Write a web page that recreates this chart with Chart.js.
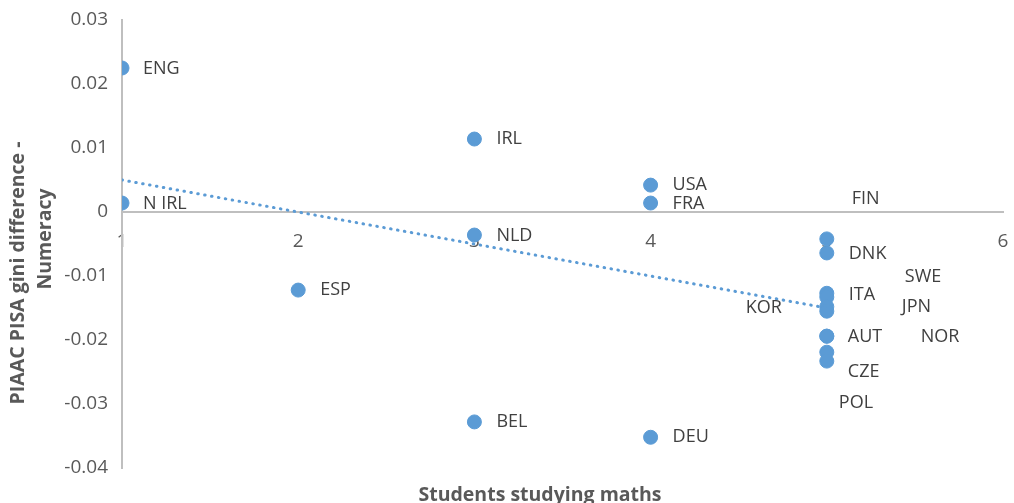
<!DOCTYPE html>
<html>
<head>
<meta charset="utf-8">
<script src="https://cdn.jsdelivr.net/npm/chart.js@4/dist/chart.umd.min.js"></script>
<style>
  body { margin: 0; background: #fff; }
  #wrap { width: 1014px; height: 503px; }
</style>
</head>
<body>
<div id="wrap"><canvas id="giniChart" width="1014" height="503"></canvas></div>
<script>
// countries and their values
var countries = ["ENG", "N IRL", "ESP", "IRL", "NLD", "BEL", "USA", "FRA", "DEU",
                 "FIN", "DNK", "SWE", "ITA", "KOR", "JPN", "AUT", "NOR", "CZE", "POL"];
var mathsStudy = [1, 1, 2, 3, 3, 3, 4, 4, 4,
                  5, 5, 5, 5, 5, 5, 5, 5, 5, 5];
var giniDiff = [0.0225, 0.0014, -0.0122, 0.0114, -0.0036, -0.0328, 0.0042, 0.0014, -0.0352,
                -0.0042, -0.0064, -0.0127, -0.0133, -0.0148, -0.0155, -0.0194, -0.0194, -0.0219, -0.0233];

// linear trendline end points
var trendX = [1, 5];
var trendY = [0.005, -0.015];

var xTicks = [1, 2, 3, 4, 5, 6];
var yTicks = [0.03, 0.02, 0.01, 0, -0.01, -0.02, -0.03, -0.04];

// where each label sits relative to its dot (Excel labels were dragged around)
var labelOffsets = [
  [21, 1], [21, 1], [22, 0], [22, 0], [22, 1], [22, 0], [22, 0], [22, 1], [22, 0],
  [25, -40], [22, 1], [78, -16], [22, -2], [-81, 1], [75, -4], [21, 1], [94, 1], [21, 20], [12, 42]
];

var blue = "#5B9BD5";
var textGrey = "#404040";

var points = mathsStudy.map(function (x, i) {
  return { x: x, y: giniDiff[i] };
});
var trendPoints = trendX.map(function (x, i) {
  return { x: x, y: trendY[i] };
});

// draws the country names next to the dots
var countryLabels = {
  id: "countryLabels",
  afterDatasetsDraw: function (chart) {
    var meta = chart.getDatasetMeta(1);
    var ctx = chart.ctx;
    ctx.save();
    ctx.font = "18px 'Open Sans'";
    ctx.fillStyle = textGrey;
    ctx.textAlign = "left";
    ctx.textBaseline = "middle";
    meta.data.forEach(function (pt, i) {
      ctx.fillText(countries[i], pt.x + labelOffsets[i][0], pt.y + labelOffsets[i][1]);
    });
    ctx.restore();
  }
};

// axis titles drawn by hand so they land where Excel put them
var axisTitles = {
  id: "axisTitles",
  afterDraw: function (chart) {
    var ctx = chart.ctx;
    ctx.save();
    ctx.font = "bold 19.5px 'Open Sans'";
    ctx.fillStyle = "#595959";
    ctx.textAlign = "center";
    ctx.textBaseline = "middle";
    ctx.fillText("Students studying maths", 540, 495);
    ctx.save();
    ctx.translate(18, 273);
    ctx.rotate(-Math.PI / 2);
    ctx.fillText("PIAAC PISA gini difference -", 0, 0);
    ctx.restore();
    ctx.translate(45, 239);
    ctx.rotate(-Math.PI / 2);
    ctx.fillText("Numeracy", 0, 0);
    ctx.restore();
  }
};

// no extra room for tick labels sticking out past the plot edges
function noEdgePadding(axis) {
  axis.paddingTop = 0;
  axis.paddingBottom = 0;
  axis.paddingLeft = 0;
  axis.paddingRight = 0;
}

var chart = new Chart(document.getElementById("giniChart"), {
  type: "scatter",
  data: {
    datasets: [{
      type: "line",
      label: "Linear trend",
      data: trendPoints,
      borderColor: blue,
      borderWidth: 3,
      borderDash: [0.5, 6.5],
      borderCapStyle: "round",
      pointRadius: 0,
      fill: false
    }, {
      label: "Countries",
      data: points,
      backgroundColor: blue,
      borderColor: blue,
      pointRadius: 7,
      pointHoverRadius: 7
    }]
  },
  options: {
    responsive: false,
    animation: false,
    layout: { autoPadding: false, padding: { left: 0, right: 11, top: 20, bottom: 35 } },
    plugins: {
      legend: { display: false },
      tooltip: { enabled: false }
    },
    scales: {
      x: {
        type: "linear",
        position: { y: 0 },
        z: 1,
        min: 1,
        max: 6,
        afterBuildTicks: function (axis) {
          axis.ticks = xTicks.map(function (v) { return { value: v }; });
        },
        afterFit: noEdgePadding,
        grid: { display: false, drawTicks: false },
        border: { display: true, color: "#BFBFBF", width: 2 },
        ticks: {
          padding: 18,
          color: "#595959",
          font: { family: "'Open Sans'", size: 19 }
        }
      },
      y: {
        type: "linear",
        position: "left",
        min: -0.04,
        max: 0.03,
        afterBuildTicks: function (axis) {
          axis.ticks = yTicks.map(function (v) { return { value: v }; });
        },
        afterFit: function (axis) {
          noEdgePadding(axis);
          axis.width = 122;
        },
        grid: { display: false, drawTicks: false },
        border: { display: true, color: "#BFBFBF", width: 2 },
        ticks: {
          padding: 14,
          color: "#595959",
          font: { family: "'Open Sans'", size: 19 },
          callback: function (v) {
            return v === 0 ? "0" : v.toFixed(2);
          }
        }
      }
    }
  },
  plugins: [countryLabels, axisTitles]
});
</script>
</body>
</html>
